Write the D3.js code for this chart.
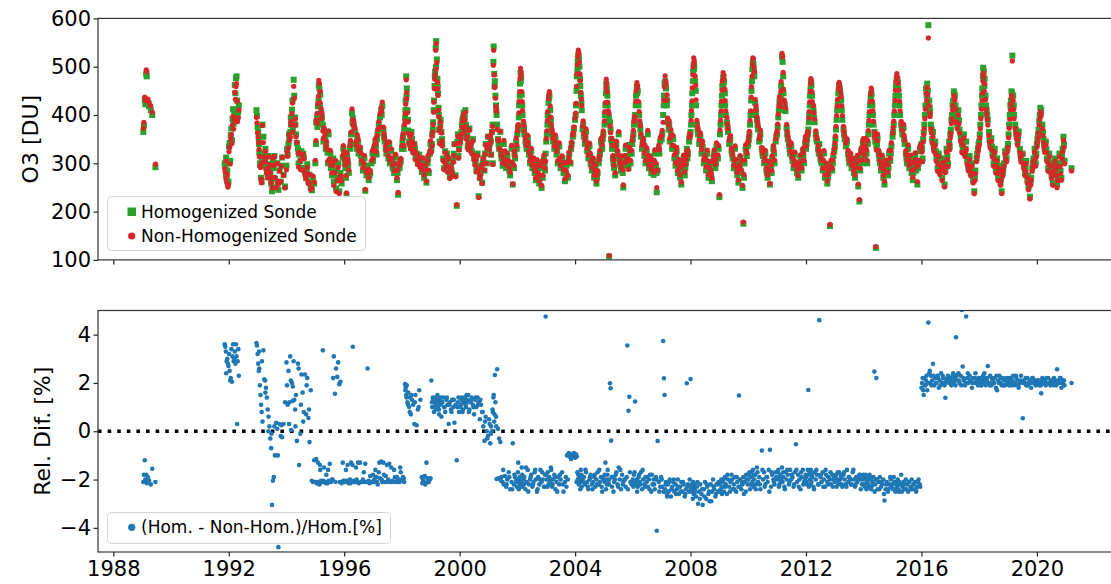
<!DOCTYPE html>
<html><head><meta charset="utf-8">
<script src="https://cdn.jsdelivr.net/npm/d3@7"></script>
<style>
html,body{margin:0;padding:0;background:#fff;}
svg{display:block;font-family:"DejaVu Sans",sans-serif;}
</style></head><body>
<svg id="chart" width="1111" height="584"></svg>
<script>
// Sounding dates (decimal years), one entry per ozonesonde profile
const obsYear = [
  1989.04,1989.06,1989.09,1989.11,1989.14,1989.16,1989.20,1989.24,1989.30,1989.35,1989.46,
  1991.86,1991.88,1991.90,1991.91,1991.93,1991.95,1991.97,1991.99,1992.01,1992.03,1992.05,1992.07,1992.09,1992.11,1992.13,1992.15,1992.17,1992.19,1992.21,1992.23,1992.25,1992.27,1992.29,1992.31,1992.33,1992.35,
  1992.96,1992.98,1993.00,1993.02,1993.04,1993.06,1993.08,1993.10,1993.12,1993.14,1993.17,1993.20,1993.23,1993.26,1993.29,1993.32,1993.35,1993.38,1993.41,1993.44,1993.47,1993.50,1993.53,1993.56,1993.60,1993.64,1993.68,1993.72,1993.76,1993.80,1993.85,1993.90,1993.95,
  1994.00,1994.04,1994.07,1994.10,1994.13,1994.16,1994.19,1994.22,1994.25,1994.27,1994.30,1994.33,1994.36,1994.40,1994.44,1994.48,1994.52,1994.56,1994.60,1994.64,1994.68,1994.72,1994.76,1994.80,1994.84,1994.88,1994.92,1994.96,
  1995.00,1995.03,1995.06,1995.09,1995.12,1995.14,1995.17,1995.20,1995.23,1995.26,1995.30,1995.34,1995.38,1995.42,1995.46,1995.50,1995.54,1995.58,1995.62,1995.64,1995.68,1995.72,1995.76,1995.79,1995.83,1995.87,1995.91,1995.95,
  1996.00,1996.04,1996.08,1996.12,1996.16,1996.20,1996.24,1996.27,1996.30,1996.33,1996.37,1996.41,1996.45,1996.50,1996.55,1996.60,1996.65,1996.70,1996.73,1996.77,1996.81,1996.85,1996.90,1996.95,
  1997.00,1997.04,1997.08,1997.12,1997.16,1997.20,1997.24,1997.28,1997.32,1997.36,1997.40,1997.44,1997.48,1997.53,1997.58,1997.63,1997.68,1997.73,1997.78,1997.83,1997.87,1997.92,1997.96,
  1998.00,1998.04,1998.08,1998.11,1998.13,1998.15,1998.17,1998.19,1998.22,1998.25,1998.28,1998.31,1998.35,1998.39,1998.43,1998.47,1998.51,1998.55,1998.60,1998.64,1998.69,1998.73,1998.77,1998.81,1998.85,1998.89,1998.93,1998.97,
  1999.02,1999.05,1999.08,1999.11,1999.13,1999.15,1999.17,1999.19,1999.21,1999.23,1999.25,1999.27,1999.29,1999.31,1999.34,1999.37,1999.40,1999.43,1999.46,1999.50,1999.54,1999.58,1999.62,1999.66,1999.70,1999.74,1999.78,1999.82,1999.86,1999.90,1999.94,1999.98,
  2000.02,2000.06,2000.10,2000.14,2000.18,2000.22,2000.26,2000.30,2000.34,2000.38,2000.42,2000.46,2000.50,2000.54,2000.58,2000.62,2000.66,2000.70,2000.74,2000.78,2000.82,2000.86,2000.90,2000.94,2000.98,
  2001.02,2001.06,2001.09,2001.12,2001.15,2001.18,2001.20,2001.22,2001.24,2001.26,2001.28,2001.30,2001.33,2001.37,2001.41,2001.45,2001.49,2001.53,2001.57,2001.61,2001.65,2001.70,2001.75,2001.80,2001.84,2001.88,2001.92,2001.96,
  2002.00,2002.03,2002.06,2002.09,2002.11,2002.13,2002.15,2002.18,2002.21,2002.24,2002.28,2002.32,2002.36,2002.40,2002.44,2002.48,2002.52,2002.56,2002.60,2002.64,2002.68,2002.72,2002.76,2002.80,2002.84,2002.88,2002.92,2002.96,
  2002.98,2003.02,2003.05,2003.08,2003.11,2003.14,2003.17,2003.20,2003.24,2003.28,2003.32,2003.36,2003.40,2003.45,2003.50,2003.55,2003.60,2003.65,2003.70,2003.75,2003.80,2003.84,2003.88,2003.92,2003.96,
  2004.00,2004.03,2004.06,2004.09,2004.11,2004.13,2004.15,2004.17,2004.20,2004.23,2004.26,2004.30,2004.34,2004.38,2004.42,2004.46,2004.50,2004.54,2004.58,2004.62,2004.66,2004.70,2004.74,2004.78,2004.82,2004.86,2004.90,2004.94,2004.98,
  2005.02,2005.05,2005.08,2005.10,2005.12,2005.15,2005.18,2005.21,2005.23,2005.25,2005.28,2005.31,2005.35,2005.39,2005.43,2005.47,2005.51,2005.55,2005.59,2005.63,2005.67,2005.71,2005.75,2005.79,2005.81,2005.85,2005.88,2005.92,2005.96,
  2006.00,2006.04,2006.08,2006.11,2006.14,2006.17,2006.20,2006.24,2006.28,2006.32,2006.36,2006.40,2006.44,2006.48,2006.52,2006.56,2006.60,2006.64,2006.68,2006.72,2006.76,2006.80,2006.83,2006.86,2006.90,2006.95,
  2007.02,2007.05,2007.08,2007.10,2007.12,2007.15,2007.18,2007.21,2007.24,2007.28,2007.32,2007.36,2007.40,2007.44,2007.48,2007.52,2007.56,2007.60,2007.64,2007.68,2007.72,2007.76,2007.80,2007.84,2007.87,2007.91,2007.95,
  2008.00,2008.03,2008.06,2008.09,2008.11,2008.13,2008.16,2008.19,2008.22,2008.26,2008.30,2008.34,2008.38,2008.42,2008.46,2008.50,2008.54,2008.58,2008.62,2008.66,2008.70,2008.74,2008.78,2008.82,2008.86,2008.90,2008.95,
  2009.00,2009.04,2009.07,2009.10,2009.13,2009.16,2009.19,2009.22,2009.26,2009.30,2009.34,2009.38,2009.42,2009.46,2009.50,2009.54,2009.58,2009.62,2009.66,2009.68,2009.72,2009.76,2009.80,2009.83,2009.87,2009.91,2009.95,
  2010.00,2010.04,2010.08,2010.11,2010.14,2010.16,2010.18,2010.21,2010.24,2010.27,2010.30,2010.34,2010.38,2010.42,2010.47,2010.51,2010.55,2010.59,2010.63,2010.67,2010.71,2010.75,2010.79,2010.83,2010.87,2010.91,2010.95,
  2011.00,2011.04,2011.08,2011.11,2011.14,2011.17,2011.19,2011.22,2011.25,2011.29,2011.33,2011.37,2011.41,2011.45,2011.49,2011.53,2011.57,2011.61,2011.65,2011.69,2011.73,2011.77,2011.81,2011.85,2011.89,2011.93,2011.97,
  2012.00,2012.04,2012.08,2012.11,2012.14,2012.17,2012.19,2012.22,2012.26,2012.30,2012.34,2012.38,2012.42,2012.46,2012.50,2012.54,2012.58,2012.62,2012.66,2012.70,2012.74,2012.78,2012.83,2012.87,2012.91,2012.95,
  2013.00,2013.04,2013.08,2013.12,2013.15,2013.18,2013.22,2013.26,2013.30,2013.34,2013.38,2013.42,2013.46,2013.50,2013.54,2013.58,2013.62,2013.66,2013.70,2013.74,2013.78,2013.81,2013.85,2013.88,2013.91,2013.94,2013.97,
  2014.00,2014.04,2014.08,2014.12,2014.16,2014.20,2014.24,2014.27,2014.30,2014.34,2014.37,2014.40,2014.42,2014.44,2014.48,2014.52,2014.56,2014.60,2014.64,2014.68,2014.72,2014.76,2014.80,2014.84,2014.88,2014.92,2014.96,
  2015.00,2015.04,2015.08,2015.12,2015.15,2015.18,2015.22,2015.26,2015.30,2015.34,2015.38,2015.42,2015.46,2015.50,2015.54,2015.58,2015.62,2015.66,2015.70,2015.74,2015.78,2015.82,2015.86,2015.90,2015.94,
  2016.00,2016.04,2016.08,2016.12,2016.16,2016.20,2016.24,2016.27,2016.30,2016.33,2016.37,2016.40,2016.44,2016.48,2016.52,2016.56,2016.60,2016.64,2016.68,2016.72,2016.76,2016.80,2016.83,2016.87,2016.92,2016.96,
  2017.00,2017.04,2017.08,2017.12,2017.16,2017.20,2017.24,2017.28,2017.32,2017.36,2017.40,2017.43,2017.47,2017.51,2017.55,2017.59,2017.63,2017.67,2017.71,2017.75,2017.79,2017.83,2017.87,2017.91,2017.96,
  2018.00,2018.04,2018.08,2018.11,2018.14,2018.16,2018.19,2018.22,2018.26,2018.30,2018.34,2018.38,2018.42,2018.46,2018.50,2018.54,2018.58,2018.62,2018.66,2018.70,2018.74,2018.78,2018.82,2018.86,2018.90,2018.95,
  2019.00,2019.04,2019.08,2019.12,2019.15,2019.18,2019.21,2019.25,2019.29,2019.33,2019.37,2019.41,2019.45,2019.51,2019.55,2019.59,2019.63,2019.67,2019.71,2019.76,2019.80,2019.84,2019.88,2019.92,2019.96,
  2020.00,2020.04,2020.08,2020.12,2020.15,2020.19,2020.23,2020.27,2020.31,2020.35,2020.39,2020.43,2020.47,2020.51,2020.55,2020.59,2020.63,2020.67,2020.70,2020.74,2020.78,2020.82,2020.85,2020.89,2020.92,2020.96,
  2021.20,
  // second sounding days
  1993.05,1993.15,1993.27,1993.37,1993.48,1993.58,1993.70,1993.82,
  1994.02,1994.09,1994.15,1994.21,1994.31,1994.42,1994.50,1994.58,1994.70,1994.78,
  1995.02,1995.07,1995.11,1995.16,1995.21,1995.28,1995.36,1995.44,1995.52,1995.60,1995.70,1995.85,1995.97,
  1996.02,1996.06,1996.10,1996.14,1996.22,1996.29,1996.35,1996.43,1996.48,1996.58,1996.68,1996.88,1996.98,
  1997.02,1997.10,1997.14,1997.22,1997.30,1997.38,1997.46,1997.56,1997.66,1997.76,1997.85,1997.94,
  1998.02,1998.06,1998.12,1998.16,1998.21,1998.27,1998.33,1998.45,1998.58,1998.71,1998.79,1998.91,1998.99,
  1999.04,1999.07,1999.10,1999.14,1999.18,1999.24,1999.28,1999.33,1999.39,1999.48,1999.56,1999.64,1999.72,1999.80,1999.92,1999.96,
  2000.04,2000.08,2000.12,2000.16,2000.20,2000.24,2000.28,2000.32,2000.40,2000.48,2000.56,2000.64,2000.72,2000.80,2000.88,2000.96,
  2001.04,2001.08,2001.14,2001.17,2001.21,2001.27,2001.35,2001.43,2001.51,2001.63,2001.72,2001.82,2001.90,2001.98,
  2002.02,2002.05,2002.08,2002.12,2002.17,2002.23,2002.30,2002.38,2002.46,2002.54,2002.62,2002.70,2002.78,2002.86,2002.94,
  2003.00,2003.04,2003.10,2003.16,2003.22,2003.30,2003.38,2003.48,2003.58,2003.68,2003.72,2003.78,2003.86,2003.94,
  2004.02,2004.05,2004.08,2004.12,2004.18,2004.22,2004.28,2004.36,2004.44,2004.52,2004.60,2004.68,2004.76,2004.84,2004.92,2004.96,
  2005.03,2005.07,2005.13,2005.17,2005.27,2005.33,2005.41,2005.49,2005.57,2005.65,2005.73,2005.83,2005.90,2005.98,
  2006.02,2006.06,2006.10,2006.15,2006.22,2006.26,2006.34,2006.42,2006.50,2006.58,2006.66,2006.74,2006.82,2006.92,2006.98,
  2007.00,2007.07,2007.14,2007.19,2007.26,2007.34,2007.42,2007.50,2007.58,2007.66,2007.74,2007.82,2007.89,2007.97,
  2008.02,2008.05,2008.08,2008.12,2008.18,2008.24,2008.32,2008.40,2008.48,2008.56,2008.64,2008.72,2008.80,2008.88,2008.97,
  2009.02,2009.06,2009.09,2009.14,2009.20,2009.28,2009.36,2009.44,2009.52,2009.60,2009.70,2009.78,2009.85,2009.93,2009.98,
  2010.02,2010.06,2010.10,2010.13,2010.20,2010.26,2010.32,2010.40,2010.49,2010.57,2010.65,2010.73,2010.81,2010.89,2010.97,
  2011.02,2011.06,2011.10,2011.13,2011.21,2011.27,2011.35,2011.43,2011.51,2011.59,2011.67,2011.75,2011.83,2011.91,2011.99,
  2012.02,2012.06,2012.10,2012.13,2012.16,2012.21,2012.28,2012.36,2012.44,2012.52,2012.60,2012.68,2012.76,2012.85,2012.93,2012.98,
  2013.02,2013.06,2013.10,2013.14,2013.20,2013.24,2013.32,2013.40,2013.48,2013.56,2013.64,2013.72,2013.80,2013.90,2013.99,
  2014.02,2014.06,2014.10,2014.14,2014.18,2014.22,2014.26,2014.32,2014.38,2014.46,2014.54,2014.62,2014.70,2014.78,2014.86,2014.94,
  2015.02,2015.06,2015.10,2015.14,2015.20,2015.24,2015.32,2015.40,2015.48,2015.56,2015.64,2015.72,2015.80,2015.88,2015.96,
  2016.02,2016.06,2016.10,2016.14,2016.18,2016.22,2016.29,2016.35,2016.42,2016.50,2016.58,2016.66,2016.74,2016.82,2016.90,2016.98,
  2017.02,2017.06,2017.10,2017.14,2017.18,2017.22,2017.30,2017.38,2017.45,2017.53,2017.61,2017.69,2017.77,2017.85,2017.93,2017.98,
  2018.02,2018.06,2018.10,2018.13,2018.18,2018.24,2018.28,2018.36,2018.44,2018.52,2018.60,2018.68,2018.76,2018.84,2018.92,2018.98,
  2019.02,2019.06,2019.10,2019.14,2019.20,2019.27,2019.35,2019.43,2019.53,2019.61,2019.69,2019.78,2019.86,2019.94,2019.98,
  2020.02,2020.06,2020.10,2020.14,2020.21,2020.25,2020.33,2020.41,2020.49,2020.57,2020.65,2020.72,2020.80,2020.87,2020.94
];

// Total column ozone of the homogenized record [DU]
const homDU = [
  365,378,432,422,485,480,425,418,410,400,292,
  300,292,278,312,268,285,258,262,335,342,305,358,372,348,392,412,382,402,462,445,476,480,430,398,408,420,
  410,398,375,365,352,322,300,296,270,262,380,355,320,310,293,283,272,315,298,280,258,242,305,290,268,250,300,245,285,262,312,276,252,
  295,318,340,352,365,380,411,372,473,440,395,360,342,330,318,305,325,290,312,282,270,298,262,276,250,244,268,258,
  300,385,395,418,462,455,442,405,395,380,368,352,340,322,360,305,290,275,310,262,285,248,270,300,242,280,258,312,
  318,290,234,305,280,330,360,404,394,380,365,340,352,320,330,300,285,310,243,275,295,265,280,300,
  305,330,345,318,362,380,395,410,418,370,345,330,338,310,300,325,290,280,312,265,235,290,305,
  330,355,372,395,430,480,455,410,368,345,360,332,350,325,340,312,320,300,318,295,282,305,270,290,260,300,280,320,
  330,360,385,430,460,490,540,553,515,475,445,415,370,345,390,365,340,310,290,325,300,285,310,272,295,280,305,340,275,212,360,330,
  345,365,390,405,395,380,360,345,372,338,325,350,310,300,285,320,232,270,295,260,310,285,340,300,355,
  330,355,318,365,300,542,485,470,440,420,400,380,350,330,365,310,295,340,320,290,315,300,275,330,256,290,310,345,
  360,375,420,465,487,478,442,400,380,360,345,330,352,318,300,325,290,305,280,265,300,275,258,290,249,270,310,285,
  320,360,400,425,440,410,375,362,345,330,350,318,300,335,290,310,280,263,295,270,320,300,340,355,372,
  390,420,480,510,525,515,500,475,440,410,370,355,340,365,325,310,335,298,285,305,270,290,258,280,300,320,345,330,360,
  380,420,465,455,440,400,107,385,370,350,330,310,290,275,340,320,360,300,285,310,250,295,330,305,315,290,338,300,320,
  350,380,400,440,458,450,420,380,355,330,345,315,300,325,360,290,310,280,300,276,320,295,240,285,330,345,
  360,400,440,465,470,455,420,385,370,345,360,330,350,310,295,325,280,300,270,256,290,310,275,300,330,320,345,
  365,400,445,490,505,500,470,420,380,360,340,355,320,335,300,310,285,320,270,295,280,263,300,320,290,335,310,
  230,380,420,460,478,470,445,400,385,365,340,350,325,310,290,330,300,275,260,295,310,280,249,175,300,330,315,
  340,360,400,450,495,510,505,480,425,410,390,370,345,360,330,315,300,320,285,270,300,256,290,310,330,300,345,
  360,395,428,410,460,520,510,445,421,408,373,350,340,320,335,305,290,318,300,280,270,295,310,285,325,300,340,
  330,350,370,400,440,468,462,420,410,385,360,345,330,340,310,300,285,320,270,295,258,280,170,300,285,315,
  335,370,410,445,460,450,430,390,370,350,335,345,320,300,315,290,305,280,270,295,310,252,221,285,325,300,340,
  330,310,345,300,360,400,435,442,420,380,365,345,125,335,352,320,300,285,310,270,256,290,300,275,320,305,335,
  355,380,420,460,475,468,440,400,380,360,373,340,320,300,330,290,310,280,265,295,315,285,256,300,325,
  340,310,365,400,455,465,586,430,405,380,350,365,330,345,310,290,320,283,300,270,310,256,285,330,300,345,
  360,390,420,449,440,400,380,410,370,355,340,330,360,320,345,305,290,315,280,300,265,242,285,310,330,
  345,380,420,455,498,490,475,440,410,390,365,340,352,320,300,330,285,310,270,295,260,242,280,300,325,310,
  340,380,420,449,523,440,400,380,360,345,366,330,310,320,295,280,305,265,250,231,270,290,310,330,300,
  340,360,387,415,410,380,350,330,345,310,290,320,300,275,260,290,310,280,256,300,320,285,270,330,355,305,
  290,
  // second sounding days
  340,310,330,290,270,315,260,295,
  330,360,395,430,380,300,290,320,285,260,
  340,375,430,420,385,345,330,300,320,290,300,265,330,
  300,270,315,295,340,385,370,330,345,315,295,275,320,
  320,335,350,370,400,355,320,340,305,295,280,300,
  345,330,410,440,390,340,365,330,305,290,280,310,340,
  340,370,410,480,500,460,400,380,350,305,320,295,285,320,345,315,
  355,380,395,370,410,355,335,330,345,320,310,290,280,300,320,330,
  340,345,380,510,460,410,340,320,305,300,285,295,320,330,
  370,395,440,470,420,370,340,335,310,300,285,290,270,300,295,
  345,380,435,390,355,340,325,305,295,280,300,310,330,360,
  400,450,495,520,460,425,380,350,330,315,295,280,270,310,340,350,
  400,445,420,395,345,300,330,310,295,280,310,300,320,340,
  360,390,420,445,400,370,340,330,310,300,290,300,280,320,350,
  350,420,460,430,380,350,330,315,290,285,300,290,310,355,
  380,420,470,495,450,370,350,330,305,300,285,270,310,300,330,
  360,400,440,465,420,375,345,320,300,285,290,300,270,320,335,
  350,380,430,470,490,400,380,350,320,305,280,295,280,320,355,
  375,410,420,440,480,415,360,330,315,300,290,285,300,315,350,
  340,360,385,420,455,440,395,350,320,305,300,285,270,290,300,325,
  350,390,425,455,440,410,360,340,310,300,290,285,300,315,345,
  320,330,320,340,380,420,445,400,355,340,310,295,280,300,290,320,
  365,400,440,470,455,420,370,350,310,300,295,280,300,290,330,
  330,350,380,420,440,450,415,370,340,325,305,290,295,300,315,335,
  370,400,430,445,420,395,390,350,345,330,300,295,285,270,320,340,
  360,400,440,480,460,420,400,350,335,315,300,285,270,290,315,330,
  360,400,430,445,420,370,355,320,305,290,275,260,300,315,320,
  350,370,400,405,365,340,330,305,285,300,295,270,300,315,340
];

// (Hom. - Non-Hom.)/Hom. for each sounding [%]
const relDif = [
  -2.1,-1.8,-1.2,-2.0,-1.8,-2.15,-1.9,-2.05,-2.2,-1.55,-2.1,
  3.6,3.5,3.3,2.4,2.9,3.0,2.8,2.7,3.2,2.5,2.1,2.2,3.4,2.05,3.1,3.6,2.9,3.0,3.3,2.8,3.6,3.1,0.3,2.9,3.4,2.3,
  3.65,3.55,3.2,2.8,2.5,2.6,1.9,1.5,1.1,0.8,0.4,3.35,2.15,2.1,1.8,1.4,0.9,0.6,0.2,-0.3,-0.7,-3.05,-2.05,-1.9,-1.0,0.35,0.1,-4.8,0.3,-0.2,-0.25,0.3,1.2,
  2.85,1.1,2.5,1.2,3.1,0.05,2.0,1.85,2.9,1.3,0.9,1.5,-0.4,2.8,-1.4,-0.1,2.35,1.6,0.8,2.35,0.7,2.2,0.55,-0.45,1.7,-2.05,-2.1,-1.2,
  -2.1,-1.15,-2.15,-1.3,-2.1,-2.2,-1.6,-2.05,-2.1,3.35,-1.5,-2.1,-1.8,-2.15,-2.05,-1.35,-2.1,-2.0,2.2,3.1,1.55,2.6,2.25,2.85,1.95,2.05,-2.15,-1.3,
  -2.1,-2.05,-2.1,-1.4,-2.15,-2.0,-1.3,-2.1,3.5,-2.05,-2.1,-1.5,-2.1,-2.15,-1.3,-2.1,-2.0,-2.1,-1.35,-2.1,2.6,-2.05,-1.85,-2.1,
  -1.8,-2.0,-1.6,-1.9,-2.2,-1.7,-1.95,-1.25,-2.1,-1.3,-2.1,-1.85,-1.4,-2.0,-2.1,-1.5,-2.05,-1.6,-2.1,-1.9,-2.0,-2.1,-1.7,
  -2.0,-1.9,-2.1,1.95,1.8,1.5,1.9,1.2,1.6,1.0,1.4,0.7,1.3,1.1,0.3,1.5,0.25,0.9,1.7,1.3,-1.9,-2.0,-2.1,-2.2,-1.3,-1.95,-2.1,-2.0,
  2.1,1.0,1.3,0.8,1.2,1.4,1.1,0.9,1.3,1.5,1.0,1.2,0.7,1.3,1.1,0.6,1.2,1.4,1.0,0.8,1.3,1.1,0.3,1.2,0.9,1.3,1.0,0.35,1.1,-1.2,1.2,0.8,
  1.0,1.3,0.8,1.2,1.4,1.0,1.3,1.5,0.9,1.2,1.4,1.1,0.7,1.3,1.0,1.4,1.2,0.5,1.1,0.8,0.2,-0.4,0.6,0.0,-0.2,
  0.5,-0.5,0.2,0.0,0.8,1.5,0.4,2.33,1.2,0.6,-1.98,2.57,0.1,-0.3,-0.45,-1.9,-2.1,-2.2,-1.85,-2.3,-2.0,-1.7,-2.4,-2.1,-0.5,-2.2,-1.9,-2.05,
  -2.1,-1.3,-2.0,-2.2,-2.0,-2.1,-1.5,-2.3,-2.0,-1.9,-2.4,-2.1,-1.6,-2.2,-2.0,-1.8,-2.3,-2.1,-1.7,-2.0,-2.5,-1.9,-2.2,-1.6,-2.1,-2.0,-2.3,-1.8,
  4.75,-2.0,-1.7,-2.2,-1.9,-2.1,-1.6,-2.3,-2.0,-1.8,-2.4,-2.1,-1.9,-2.2,-2.0,-1.7,-2.5,-2.1,-2.3,-2.0,-1.05,-0.95,-1.1,-1.0,-0.9,
  -1.1,-0.95,-1.05,-2.0,-1.8,-2.2,-1.9,-2.1,-1.6,-2.3,-2.0,-1.9,-2.2,-1.7,-2.1,-2.4,-2.0,-1.8,-2.2,-2.1,-1.9,-2.3,-2.0,-1.7,-2.2,-2.1,-1.9,-2.5,-2.0,
  -2.1,-1.3,-2.0,-2.2,-1.8,-2.1,-2.0,1.99,1.78,-0.39,-2.3,-1.9,-2.1,-2.0,-1.7,-2.2,-1.5,-2.0,-2.4,-1.8,-2.1,-2.0,-2.3,-1.9,3.55,0.85,1.43,-2.1,-2.2,
  -2.0,-1.8,1.23,-2.2,-2.0,-2.3,-1.9,-2.1,-1.7,-2.4,-2.0,-2.2,-1.9,-2.1,-2.3,-2.0,-1.8,-2.5,-2.2,-2.0,-2.4,-1.9,-4.12,-0.4,-2.1,-2.3,
  -2.3,3.74,2.19,1.5,-2.4,-2.1,-2.6,-2.2,-2.5,-2.0,-2.7,-2.3,-2.1,-2.5,-2.2,-2.4,-2.0,-2.6,-2.3,-2.1,-2.5,-2.2,-2.7,-2.4,1.99,-2.2,-2.5,
  2.16,-2.3,-2.5,-2.1,-2.6,-2.4,-2.2,-2.7,-2.3,-3.0,-2.5,-2.2,-2.6,-3.05,-2.4,-2.1,-2.8,-2.3,-2.6,-2.9,-2.2,-2.5,-2.0,-2.4,-2.7,-2.2,-2.5,
  -2.2,-2.4,-2.0,-2.3,-2.1,-2.5,-1.9,-2.2,-2.6,-2.0,-2.3,-2.1,-1.8,-2.4,-2.2,-1.9,-2.5,-2.1,-2.3,1.48,-2.0,-2.4,-2.2,-1.9,-2.1,-2.5,-2.0,
  -2.0,-1.7,-2.2,-1.9,-2.1,-1.6,-2.3,-2.0,-1.8,-2.2,-1.5,-2.1,-1.9,-2.4,-0.8,-2.0,-1.7,-2.2,-1.9,-2.1,-1.6,-0.77,-2.3,-1.8,-2.0,-2.2,-1.7,
  -2.0,-1.6,-2.2,-1.8,-2.0,-1.5,-2.1,-1.9,-2.3,-1.7,-2.0,-1.8,-2.2,-1.6,-2.0,-1.9,-2.3,-1.7,-0.54,-2.1,-1.8,-2.0,-2.4,-1.9,-1.6,-2.1,-2.0,
  -1.9,-2.2,1.71,-1.8,-2.0,-1.6,-2.1,-1.9,-2.3,-1.7,-2.0,-1.8,-2.2,4.6,-1.9,-2.1,-1.7,-2.0,-2.3,-1.8,-2.1,-1.9,-2.0,-2.2,-1.8,-2.0,
  -2.1,-1.8,-2.0,-2.2,-1.7,-2.0,-1.9,-2.3,-1.8,-2.0,-2.2,-1.6,-2.1,-1.9,-2.0,-2.2,-1.7,-2.0,-2.3,-1.9,-2.1,-2.0,-1.8,-1.8,-2.0,-2.2,-1.9,
  -2.0,-2.3,-1.9,-2.1,-2.2,-1.8,-2.0,-2.3,-2.1,-1.9,2.47,-2.2,-2.0,2.2,-2.4,-2.1,-1.9,-2.3,-2.2,-2.0,-2.87,-2.4,-2.1,-2.5,-2.2,-1.9,-2.3,
  -2.2,-1.9,-2.4,-2.1,-2.3,-2.0,-2.5,-2.2,-1.8,-2.3,-2.1,-2.4,-2.0,-2.2,-2.5,-2.1,-2.3,-2.0,-2.4,-2.2,-2.1,-2.5,-2.3,-2.0,-2.2,
  1.8,2.2,1.5,1.9,2.1,1.7,4.5,2.4,2.0,2.3,2.1,2.79,1.9,2.2,2.0,2.3,1.8,2.1,2.4,2.0,2.2,1.9,1.39,2.1,2.3,2.0,
  2.1,1.9,2.3,2.0,2.2,3.89,2.1,2.4,2.0,2.3,5.02,2.68,2.1,1.9,4.75,2.2,2.0,2.3,2.1,1.8,2.2,2.0,2.4,2.1,1.9,
  2.0,2.2,1.9,2.1,2.3,2.0,2.2,1.9,2.1,2.7,2.0,2.3,1.9,2.1,2.0,2.2,1.8,1.7,2.1,2.3,2.0,1.9,2.2,2.1,1.9,2.2,
  2.1,1.9,2.2,2.0,2.1,2.3,1.9,2.0,2.2,2.1,1.8,2.0,2.3,0.54,2.1,2.0,1.9,2.2,2.0,2.1,1.8,2.2,2.0,2.1,1.9,
  2.0,2.1,1.9,2.0,1.57,2.2,2.0,2.1,1.9,2.0,2.2,2.0,1.9,2.1,2.0,2.2,2.0,1.9,2.57,2.1,2.0,2.2,1.8,2.0,2.1,1.9,
  2.0,
  // second sounding days
  3.3,2.9,1.6,0.0,-0.1,0.2,-1.0,0.25,
  1.9,0.3,2.1,1.25,0.2,2.6,1.1,0.4,1.9,0.9,
  -2.1,-2.15,-2.1,-1.4,-2.1,-2.05,-2.15,-1.6,-2.1,-2.0,-2.1,-2.1,-2.05,
  -2.1,-1.6,-2.1,-2.05,-2.15,-1.4,-2.1,-2.0,-1.3,-2.1,-1.7,-2.15,-2.1,
  -2.1,-1.9,-2.1,-1.3,-2.0,-1.8,-2.1,-1.35,-2.1,-1.9,-2.1,-1.5,
  -2.05,-1.95,1.7,1.4,1.1,0.8,1.5,1.2,1.0,-2.15,-1.85,-2.1,-1.95,
  1.2,1.4,1.0,1.3,1.1,1.2,0.9,1.4,1.2,1.0,1.4,1.1,0.8,1.3,1.0,1.4,
  1.1,1.4,0.9,1.3,1.1,1.5,1.2,0.8,1.3,1.0,1.4,1.1,1.3,0.8,0.4,-0.3,
  0.3,-0.1,0.9,1.4,0.7,0.2,-1.95,-2.05,-1.6,-2.2,-1.9,-2.4,-1.8,-2.3,
  -1.7,-2.4,-1.9,-2.3,-1.8,-2.2,-1.5,-2.5,-1.9,-2.2,-1.6,-2.4,-2.0,-1.7,-2.3,
  -1.8,-2.3,-2.0,-1.5,-2.2,-1.9,-2.5,-1.8,-2.2,-1.9,-1.0,-0.9,-1.15,-1.0,
  -1.0,-2.1,-1.7,-2.0,-2.4,-1.8,-2.1,-1.6,-2.3,-1.9,-2.4,-1.8,-2.2,-1.6,-2.3,-1.9,
  -1.8,-2.4,-1.6,-2.2,-1.9,-2.5,-1.8,-2.3,-1.6,-2.2,-2.0,-2.4,-1.7,-2.1,
  -2.3,-1.7,-2.1,-2.5,-1.8,-2.2,-1.6,-2.3,-1.9,-2.4,-1.8,-2.2,-2.0,-2.5,-1.9,
  -2.0,-2.5,-2.2,-2.7,-2.1,-2.4,-2.0,-2.6,-2.3,-2.5,-2.1,-2.6,-2.3,-2.0,
  -2.4,-2.2,-2.8,-2.3,-2.5,-2.1,-2.8,-2.4,-2.7,-2.2,-2.5,-2.9,-2.3,-2.6,-2.1,
  -2.5,-2.1,-2.6,-2.0,-2.3,-1.8,-2.5,-2.0,-2.4,-1.9,-2.3,-2.1,-2.6,-1.8,-2.2,
  -1.8,-2.4,-1.7,-2.2,-1.8,-2.4,-1.7,-2.2,-1.6,-2.3,-1.9,-2.5,-1.7,-2.1,-1.9,
  -1.7,-2.3,-1.9,-2.1,-1.7,-2.4,-1.6,-2.1,-1.8,-2.2,-1.6,-2.3,-1.7,-2.2,-1.8,
  -2.1,-1.6,-2.3,-1.7,-2.2,-1.8,-2.4,-1.6,-2.2,-1.8,-2.3,-1.6,-2.2,-1.7,-2.3,-1.9,
  -1.9,-2.3,-1.7,-2.1,-1.8,-2.2,-1.7,-2.3,-1.9,-2.2,-1.6,-2.2,-1.9,-2.4,-1.8,
  -2.2,-1.8,-2.4,-2.0,-2.3,-1.9,-2.4,-2.2,-2.5,-2.0,-2.4,-2.1,-2.6,-2.2,-2.4,-2.0,
  -2.4,-2.1,-2.5,-2.2,-2.4,-2.1,-2.5,-2.2,-2.4,-2.1,-2.4,-2.2,-2.4,-2.1,-2.3,
  2.0,1.7,2.2,1.9,2.3,2.0,2.5,1.9,2.3,2.0,2.2,1.9,2.3,2.0,2.2,2.1,
  2.2,2.0,2.4,2.1,1.9,2.3,2.1,1.9,2.2,2.0,2.4,2.1,2.0,2.2,2.0,2.2,
  2.1,1.9,2.2,2.0,2.4,2.0,2.2,1.9,2.2,2.0,2.3,2.0,2.2,1.9,2.1,2.0,
  2.0,2.2,1.9,2.1,2.0,2.3,1.9,2.1,2.0,2.2,1.9,2.0,2.2,2.0,2.1,
  2.1,2.0,2.1,1.9,2.1,2.0,2.2,2.0,2.1,1.9,2.1,2.0,2.2,2.0,2.1
];

// Non-homogenized column, recovered from the plotted relative difference
const nonHomDU = homDU.map((h, i) => h * (1 - relDif[i] / 100));

const yearTicks = [1988, 1992, 1996, 2000, 2004, 2008, 2012, 2016, 2020];
const o3Ticks = [100, 200, 300, 400, 500, 600];
const difTicks = [-4, -2, 0, 2, 4];

const COL_HOM = "#2ca02c", COL_NON = "#d62728", COL_DIF = "#1f77b4";

const svg = d3.select("#chart");
const L = 98, R = 1120;
const top1 = 18.4, bot1 = 259.9, top2 = 310.5, bot2 = 552;

const x = d3.scaleLinear().domain([1987.47, 2022.88]).range([L, R]);
const yO3 = d3.scaleLinear().domain([100, 600]).range([bot1, top1]);
const yDif = d3.scaleLinear().domain([-5, 5]).range([bot2, top2]);

const n = Math.min(obsYear.length, homDU.length, relDif.length);
const rows = d3.range(n).map(i => ({t: obsYear[i], hom: homDU[i], non: nonHomDU[i], dif: relDif[i]}));

const defs = svg.append("defs");
defs.append("clipPath").attr("id", "clipTop").append("rect")
  .attr("x", L).attr("y", top1).attr("width", R - L).attr("height", bot1 - top1);
defs.append("clipPath").attr("id", "clipBot").append("rect")
  .attr("x", L).attr("y", top2).attr("width", R - L).attr("height", bot2 - top2);

function styleAxis(g, fs) {
  g.select(".domain").remove();
  g.selectAll(".tick line").attr("stroke", "#222").attr("stroke-width", 1.2);
  g.selectAll(".tick text").attr("fill", "#000").style("font-size", fs + "px")
    .style("font-family", "'DejaVu Sans', sans-serif");
}

// ---- upper panel: total ozone ----
const p1 = svg.append("g");
p1.append("g").attr("clip-path", "url(#clipTop)")
  .selectAll("rect").data(rows).join("rect")
  .attr("x", d => x(d.t) - 3).attr("y", d => yO3(d.hom) - 3)
  .attr("width", 6).attr("height", 6).attr("fill", COL_HOM);
p1.append("g").attr("clip-path", "url(#clipTop)")
  .selectAll("circle").data(rows).join("circle")
  .attr("cx", d => x(d.t)).attr("cy", d => yO3(d.non)).attr("r", 2.6).attr("fill", COL_NON);

p1.append("g").attr("transform", `translate(${L},0)`)
  .call(d3.axisLeft(yO3).tickValues(o3Ticks).tickSize(4.5).tickPadding(2.5).tickFormat(d3.format("d")))
  .call(g => styleAxis(g, 21));
p1.append("g").attr("transform", `translate(0,${bot1})`)
  .call(d3.axisBottom(x).tickValues(yearTicks).tickSize(4.5).tickFormat(""))
  .call(g => styleAxis(g, 21));
p1.append("rect").attr("x", L).attr("y", top1).attr("width", R - L).attr("height", bot1 - top1)
  .attr("fill", "none").attr("stroke", "#333").attr("stroke-width", 1.2);

p1.append("text").attr("transform", `translate(30,${(top1 + bot1) / 2}) rotate(-90)`)
  .attr("text-anchor", "middle").attr("dominant-baseline", "central")
  .style("font-size", "22px").text("O3 [DU]");

// legend, upper panel
const lg1 = p1.append("g");
lg1.append("rect").attr("x", 107.5).attr("y", 196.5).attr("width", 258).attr("height", 54)
  .attr("rx", 4).attr("fill", "#fff").attr("fill-opacity", 0.85).attr("stroke", "#d4d4d4").attr("stroke-width", 1);
lg1.append("rect").attr("x", 127.5).attr("y", 207.5).attr("width", 8.5).attr("height", 8.5).attr("fill", COL_HOM);
lg1.append("circle").attr("cx", 131.7).attr("cy", 236).attr("r", 3.6).attr("fill", COL_NON);
lg1.append("text").attr("x", 141).attr("y", 217.5).style("font-size", "17px").text("Homogenized Sonde");
lg1.append("text").attr("x", 141).attr("y", 242).style("font-size", "17px").text("Non-Homogenized Sonde");

// ---- lower panel: relative difference ----
const p2 = svg.append("g");
p2.append("line").attr("x1", L).attr("x2", R).attr("y1", yDif(0)).attr("y2", yDif(0))
  .attr("stroke", "#000").attr("stroke-width", 3.6).attr("stroke-dasharray", "3.6 6");
p2.append("g").attr("clip-path", "url(#clipBot)")
  .selectAll("circle").data(rows).join("circle")
  .attr("cx", d => x(d.t)).attr("cy", d => yDif(d.dif)).attr("r", 2.3).attr("fill", COL_DIF);

p2.append("g").attr("transform", `translate(${L},0)`)
  .call(d3.axisLeft(yDif).tickValues(difTicks).tickSize(4.5).tickPadding(2.5))
  .call(g => styleAxis(g, 21));
p2.append("g").attr("transform", `translate(0,${bot2})`)
  .call(d3.axisBottom(x).tickValues(yearTicks).tickSize(4.5).tickPadding(5).tickFormat(d3.format("d")))
  .call(g => styleAxis(g, 21));
p2.append("rect").attr("x", L).attr("y", top2).attr("width", R - L).attr("height", bot2 - top2)
  .attr("fill", "none").attr("stroke", "#333").attr("stroke-width", 1.2);

p2.append("text").attr("transform", `translate(42,${yDif(0)}) rotate(-90)`)
  .attr("text-anchor", "middle").attr("dominant-baseline", "central")
  .style("font-size", "22px").text("Rel. Dif. [%]");

const lg2 = p2.append("g");
lg2.append("rect").attr("x", 107.5).attr("y", 512.5).attr("width", 283).attr("height", 31)
  .attr("rx", 4).attr("fill", "#fff").attr("fill-opacity", 0.85).attr("stroke", "#d4d4d4").attr("stroke-width", 1);
lg2.append("circle").attr("cx", 131.7).attr("cy", 527.3).attr("r", 3.6).attr("fill", COL_DIF);
lg2.append("text").attr("x", 141).attr("y", 533.3).style("font-size", "17px").text("(Hom. - Non-Hom.)/Hom.[%]");
</script>
</body></html>
